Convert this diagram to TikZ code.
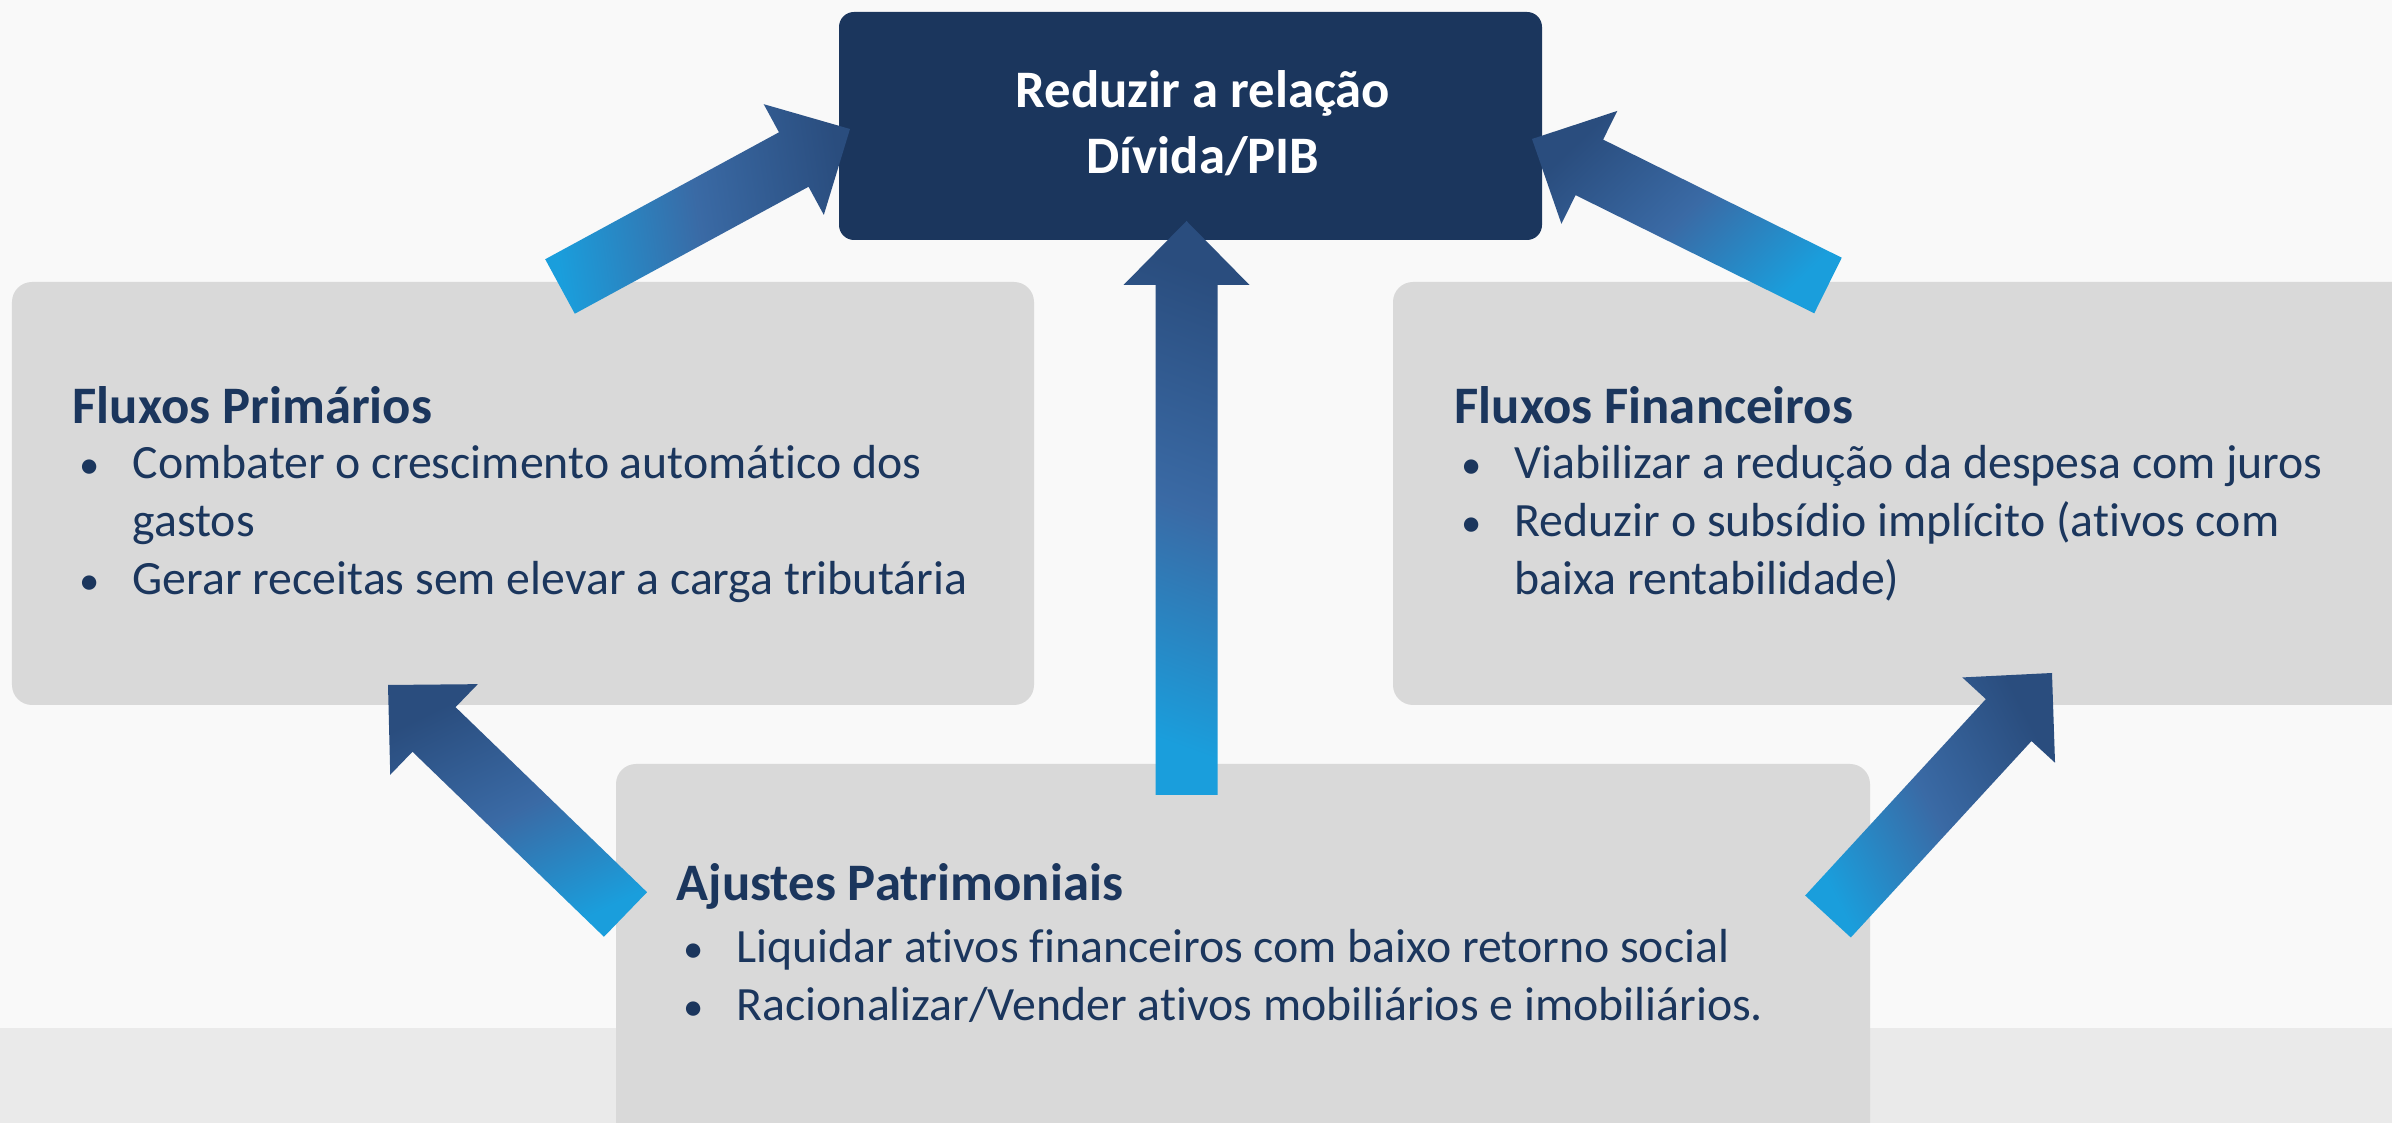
\documentclass[tikz,border=0pt]{standalone}
\usepackage{fontspec}
\setmainfont{Carlito}[Ligatures=CommonOff]
\usepackage{tikz}
\usepackage{xcolor}
\usetikzlibrary{calc,positioning}
\definecolor{navy}{HTML}{1B365D}
\definecolor{boxgray}{HTML}{D9D9D9}
\definecolor{arrowlight}{HTML}{1A9EDC}
\definecolor{arrowmid}{HTML}{3A6AA5}
\definecolor{arrowdark}{HTML}{2A4D7E}
\definecolor{bgwhite}{HTML}{F9F9F9}
\definecolor{bgband}{HTML}{EAEAEA}
\newcommand{\bul}{\makebox[0.6cm][l]{\hspace{0.07cm}\scalebox{0.85}{\textbullet}}}
\newcommand{\blockarrow}[3]{%
  \coordinate (hb) at ($(#2)!0.64cm!(#1)$);
  \shade[arrowfill, shading angle=#3]
    ($(#1)!0.31cm!90:(#2)$) -- ($(hb)!0.31cm!90:(#2)$) -- ($(hb)!0.63cm!90:(#2)$) -- (#2)
    -- ($(hb)!0.63cm!-90:(#2)$) -- ($(hb)!0.31cm!-90:(#2)$) -- ($(#1)!0.31cm!-90:(#2)$) -- cycle;}
\tikzset{
  graybox/.style={fill=boxgray, rounded corners=0.2cm, inner sep=0},
  goalbox/.style={fill=navy, rounded corners=0.15cm, inner sep=0},
  boxtitle/.style={anchor=base west, inner sep=0, text=navy, font=\fontsize{15}{18}\selectfont\bfseries},
  itemline/.style={anchor=base west, inner sep=0, text=navy, font=\fontsize{13.6}{16.5}\selectfont},
  arrowfill/.style={top color=arrowdark, bottom color=arrowlight, middle color=arrowmid}
}

\begin{document}
\begin{tikzpicture}
\useasboundingbox (0,0) rectangle (23.92,11.23);
\clip (0,0) rectangle (23.92,11.23);
\fill[bgwhite] (0,0) rectangle (23.92,11.23);
\fill[bgband] (0,0) rectangle (23.92,0.95);

\node[goalbox, minimum width=7.03cm, minimum height=2.28cm] (goal) at (11.905,9.97) {};

\node[graybox, minimum width=10.22cm, minimum height=4.23cm] (prim) at (5.23,6.295) {};

\node[graybox, minimum width=10.37cm, minimum height=4.23cm] (fin) at (19.115,6.295) {};

\node[graybox, minimum width=12.54cm, minimum height=4.6cm] (patr) at (12.43,1.29) {};

% goal
\node[anchor=base, inner sep=0, text=white, font=\fontsize{15}{18}\selectfont\bfseries] (goal-1) at (12.03,10.15) {Reduzir a relação};
\node[anchor=base, inner sep=0, text=white, font=\fontsize{15}{18}\selectfont\bfseries] (goal-2) at (12.03,9.49) {Dívida/PIB};

% primarios
\node[boxtitle] (prim-t) at (0.72,6.99) {Fluxos Primários};
\node[itemline] (prim-1) at (0.72,6.44) {\bul Combater o crescimento automático dos};
\node[itemline] (prim-1b) at (1.32,5.86) {gastos};
\node[itemline] (prim-2) at (0.72,5.28) {\bul Gerar receitas sem elevar a carga tributária};

% financeiros
\node[boxtitle] (fin-t) at (14.54,6.99) {Fluxos Financeiros};
\node[itemline] (fin-1) at (14.54,6.44) {\bul Viabilizar a redução da despesa com juros};
\node[itemline] (fin-2) at (14.54,5.86) {\bul Reduzir o subsídio implícito (ativos com};
\node[itemline] (fin-2b) at (15.14,5.28) {baixa rentabilidade)};

% patrimoniais
\node[boxtitle] (patr-t) at (6.76,2.22) {Ajustes Patrimoniais};
\node[itemline] (patr-1) at (6.76,1.60) {\bul Liquidar ativos financeiros com baixo retorno social};
\node[itemline] (patr-2) at (6.76,1.02) {\bul Racionalizar/Vender ativos mobiliários e imobiliários.};

\coordinate (lt-tail) at (5.60,8.365);
\coordinate (lt-tip) at (8.50,9.94);
\coordinate (rt-tail) at (18.28,8.375);
\coordinate (rt-tip) at (15.32,9.84);
\coordinate (c-tail) at (11.865,3.28);
\coordinate (c-tip) at (11.865,9.02);
\coordinate (lb-tail) at (6.255,2.085);
\coordinate (lb-tip) at (3.88,4.38);
\coordinate (rb-tail) at (18.28,2.065);
\coordinate (rb-tip) at (20.52,4.50);

\blockarrow{lt-tail}{lt-tip}{-81.5}
\blockarrow{rt-tail}{rt-tip}{43.7}
\blockarrow{c-tail}{c-tip}{-20}
\blockarrow{lb-tail}{lb-tip}{26}
\blockarrow{rb-tail}{rb-tip}{-62.6}
\end{tikzpicture}
\end{document}
